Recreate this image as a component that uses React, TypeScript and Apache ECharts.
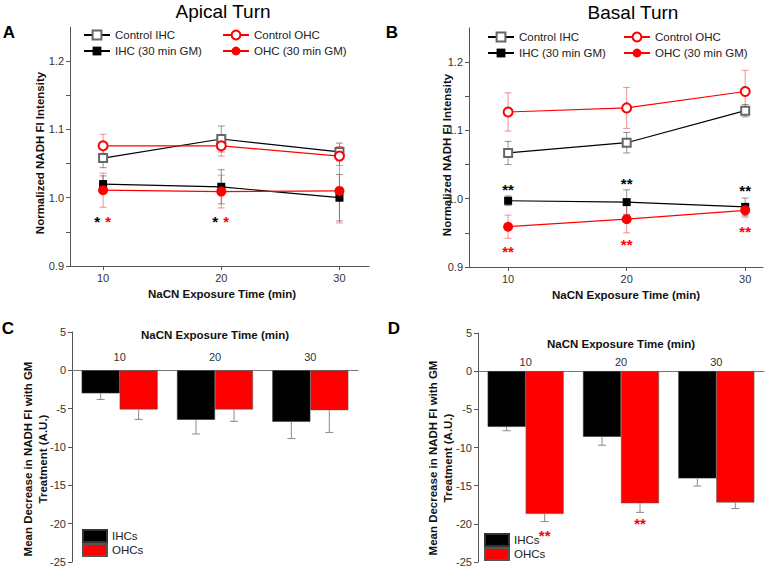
import { useEffect, useRef } from 'react';
import * as echarts from 'echarts';

const FONT = '"Liberation Sans", Arial, Helvetica, sans-serif';

// Exposure times (min)
const times = [10, 20, 30];
const timeCategories = ['10', '20', '30'];

// Panel A — Apical turn, normalized NADH FI intensity (mean, ± error)
const apicalControlIHC = [1.058, 1.086, 1.067];
const apicalControlIHCErr = [0.014, 0.019, 0.013];
const apicalControlOHC = [1.076, 1.076, 1.061];
const apicalControlOHCErr = [0.017, 0.015, 0.014];
const apicalGMIHC = [1.02, 1.016, 1.0];
const apicalGMIHCErr = [0.012, 0.025, 0.034];
const apicalGMOHC = [1.011, 1.009, 1.01];
const apicalGMOHCErr = [0.025, 0.024, 0.047];
const apicalSigIHC = [[10, 0.97], [20, 0.97]];
const apicalSigOHC = [[10, 0.97], [20, 0.97]];

// Panel B — Basal turn
const basalControlIHC = [1.067, 1.082, 1.129];
const basalControlIHCErr = [0.017, 0.015, 0.009];
const basalControlOHC = [1.127, 1.133, 1.157];
const basalControlOHCErr = [0.028, 0.03, 0.031];
const basalGMIHC = [0.997, 0.995, 0.988];
const basalGMIHCErr = [0.007, 0.018, 0.013];
const basalGMOHC = [0.959, 0.97, 0.983];
const basalGMOHCErr = [0.017, 0.02, 0.01];
const basalSigIHC = [[10, 1.018], [20, 1.026], [30, 1.016]];
const basalSigOHC = [[10, 0.927], [20, 0.938], [30, 0.957]];

// Panel C — Apical turn, mean decrease with GM treatment
const apicalDecreaseIHC = [-3.0, -6.45, -6.7];
const apicalDecreaseIHCErr = [0.8, 1.85, 2.2];
const apicalDecreaseOHC = [-5.1, -5.1, -5.2];
const apicalDecreaseOHCErr = [1.3, 1.55, 2.9];

// Panel D — Basal turn, mean decrease with GM treatment
const basalDecreaseIHC = [-7.3, -8.6, -14.05];
const basalDecreaseIHCErr = [0.5, 1.1, 1.0];
const basalDecreaseOHC = [-18.7, -17.3, -17.2];
const basalDecreaseOHCErr = [1.0, 1.2, 0.8];
const basalDecreaseSigOHC = [[0, -21.2], [1, -19.5]];

// Tick values
const normTicks = [0.9, 1.0, 1.1, 1.2];
const normMinorTicks = [0.95, 1.05, 1.15];
const decreaseMin = -25;
const decreaseMax = 5;
const decreaseStep = 5;

const RED = '#ff0000';
const RED_ERR = 'rgba(230,40,40,0.5)';
const GRAY_ERR = 'rgba(60,60,60,0.55)';
const AXIS = '#555';

const pairs = (vals: number[]) => times.map((t, i) => [t, vals[i]]);
const triples = (vals: number[], errs: number[]) => times.map((t, i) => [t, vals[i], errs[i]]);
const catTriples = (vals: number[], errs: number[]) => vals.map((v, i) => [i, v, errs[i]]);

const errRender = (color: string, capHalf: number) => (_p: any, api: any) => {
  const x = api.value(0);
  const y = api.value(1);
  const e = api.value(2);
  const hi = api.coord([x, y + e]);
  const lo = api.coord([x, y - e]);
  const style = { stroke: color, lineWidth: 1 };
  return {
    type: 'group',
    children: [
      { type: 'line', shape: { x1: hi[0], y1: hi[1], x2: lo[0], y2: lo[1] }, style },
      { type: 'line', shape: { x1: hi[0] - capHalf, y1: hi[1], x2: hi[0] + capHalf, y2: hi[1] }, style },
      { type: 'line', shape: { x1: lo[0] - capHalf, y1: lo[1], x2: lo[0] + capHalf, y2: lo[1] }, style },
    ],
  };
};

const barErrRender = (offset: number) => (_p: any, api: any) => {
  const c = api.value(0);
  const v = api.value(1);
  const e = api.value(2);
  const p0 = api.coord([c, v]);
  const p1 = api.coord([c, v - e]);
  const x = p0[0] + offset;
  const style = { stroke: '#8a8a8a', lineWidth: 1 };
  return {
    type: 'group',
    children: [
      { type: 'line', shape: { x1: x, y1: p0[1], x2: x, y2: p1[1] }, style },
      { type: 'line', shape: { x1: x - 4, y1: p1[1], x2: x + 4, y2: p1[1] }, style },
    ],
  };
};

const sigRender = (text: string, color: string, dx: number, size: number) => (_p: any, api: any) => {
  const p = api.coord([api.value(0), api.value(1)]);
  return {
    type: 'text',
    x: p[0] + dx,
    y: p[1] + 3,
    style: {
      text,
      fill: color,
      fontSize: size,
      fontFamily: FONT,
      fontWeight: 'bold',
      align: 'center',
      verticalAlign: 'middle',
    },
  };
};

const tickLabel = { color: '#333', fontSize: 11, fontFamily: FONT };
const axisLine = { show: true, onZero: false, lineStyle: { color: AXIS, width: 1 } };

const normYAxis = (gridIndex: number) => ({
  type: 'value',
  gridIndex,
  min: 0.9,
  max: 1.25,
  axisLine,
  splitLine: { show: false },
  axisTick: {
    show: true,
    length: 4,
    lineStyle: { color: AXIS },
    customValues: [...normTicks, ...normMinorTicks].sort((a, b) => a - b),
  },
  axisLabel: {
    ...tickLabel,
    margin: 6,
    customValues: normTicks,
    formatter: (v: number) => v.toFixed(1),
  },
});

const timeXAxis = (gridIndex: number, min: number, max: number, pad: number) => ({
  type: 'value',
  gridIndex,
  min,
  max,
  name: 'NaCN Exposure Time (min)',
  nameLocation: 'middle',
  nameGap: 22,
  nameTextStyle: { fontWeight: 'bold', fontSize: 11.5, fontFamily: FONT, color: '#111', padding: [0, 0, 0, pad] },
  axisLine,
  splitLine: { show: false },
  axisTick: { show: true, length: 4, lineStyle: { color: AXIS }, customValues: times },
  axisLabel: { ...tickLabel, margin: 6, customValues: times },
});

// Category axis drawn on the zero line: grid top is at +5, so the axis is shifted
// down into the grid by the height share of the 0..5 range.
const catXAxis = (gridIndex: number, gridHeight: number, nameGap: number, margin: number) => ({
  type: 'category',
  gridIndex,
  position: 'top',
  offset: -(gridHeight * (decreaseMax - 0)) / (decreaseMax - decreaseMin),
  data: timeCategories,
  name: 'NaCN Exposure Time (min)',
  nameLocation: 'middle',
  nameGap,
  nameTextStyle: { fontWeight: 'bold', fontSize: 11.5, fontFamily: FONT, color: '#111' },
  axisLine: { show: true, onZero: false, lineStyle: { color: '#777', width: 1 } },
  axisTick: { show: false },
  axisLabel: { ...tickLabel, margin },
  splitLine: { show: false },
});

const decreaseYAxis = (gridIndex: number) => ({
  type: 'value',
  gridIndex,
  min: decreaseMin,
  max: decreaseMax,
  interval: decreaseStep,
  axisLine,
  splitLine: { show: false },
  axisTick: { show: true, length: 4, lineStyle: { color: AXIS } },
  axisLabel: { ...tickLabel, margin: 6 },
});

const lineLegend = (name: string, left: number, top: number) => ({
  data: [name],
  left,
  top,
  padding: 0,
  itemWidth: 26,
  itemHeight: 11,
  selectedMode: false,
  textStyle: { fontSize: 11.5, fontFamily: FONT, color: '#222' },
});

const barLegend = (left: number, top: number) => ({
  data: ['IHCs', 'OHCs'],
  orient: 'vertical',
  left,
  top,
  padding: 0,
  itemGap: 0,
  itemWidth: 24,
  itemHeight: 12,
  icon: 'rect',
  selectedMode: false,
  textStyle: { fontSize: 11.5, fontFamily: FONT, color: '#222' },
});

const lineSeriesSet = (
  axis: number,
  cIHC: number[], cIHCe: number[], cOHC: number[], cOHCe: number[],
  gIHC: number[], gIHCe: number[], gOHC: number[], gOHCe: number[],
) => [
  { type: 'custom', name: 'err-cIHC', xAxisIndex: axis, yAxisIndex: axis, z: 1, renderItem: errRender(GRAY_ERR, 3.5), encode: { x: 0, y: 1 }, data: triples(cIHC, cIHCe) },
  { type: 'custom', name: 'err-cOHC', xAxisIndex: axis, yAxisIndex: axis, z: 1, renderItem: errRender(RED_ERR, 3.5), encode: { x: 0, y: 1 }, data: triples(cOHC, cOHCe) },
  { type: 'custom', name: 'err-gIHC', xAxisIndex: axis, yAxisIndex: axis, z: 1, renderItem: errRender(GRAY_ERR, 3.5), encode: { x: 0, y: 1 }, data: triples(gIHC, gIHCe) },
  { type: 'custom', name: 'err-gOHC', xAxisIndex: axis, yAxisIndex: axis, z: 1, renderItem: errRender(RED_ERR, 3.5), encode: { x: 0, y: 1 }, data: triples(gOHC, gOHCe) },
  {
    type: 'line', name: 'Control IHC', xAxisIndex: axis, yAxisIndex: axis, z: 3,
    symbol: 'emptyRect', symbolSize: 8,
    itemStyle: { color: '#666', borderWidth: 0.9 },
    lineStyle: { color: '#000', width: 1.2 },
    data: pairs(cIHC),
  },
  {
    type: 'line', name: 'Control OHC', xAxisIndex: axis, yAxisIndex: axis, z: 3,
    symbol: 'emptyCircle', symbolSize: 9,
    itemStyle: { color: RED, borderWidth: 0.9 },
    lineStyle: { color: RED, width: 1.2 },
    data: pairs(cOHC),
  },
  {
    type: 'line', name: 'IHC (30 min GM)', xAxisIndex: axis, yAxisIndex: axis, z: 3,
    symbol: 'rect', symbolSize: 8,
    itemStyle: { color: '#000' },
    lineStyle: { color: '#000', width: 1.2 },
    data: pairs(gIHC),
  },
  {
    type: 'line', name: 'OHC (30 min GM)', xAxisIndex: axis, yAxisIndex: axis, z: 3,
    symbol: 'circle', symbolSize: 10,
    itemStyle: { color: RED },
    lineStyle: { color: RED, width: 1.2 },
    data: pairs(gOHC),
  },
];

const GRID_C_H = 230;
const GRID_D_H = 229;

export default function App() {
  const ref = useRef<HTMLDivElement>(null);

  useEffect(() => {
    if (!ref.current) return;
    const chart = echarts.init(ref.current, undefined, { renderer: 'svg' });

    const option: any = {
      animation: false,
      backgroundColor: '#fff',
      textStyle: { fontFamily: FONT },
      grid: [
        { left: 70, top: 27, width: 299, height: 239 },
        { left: 469, top: 28, width: 294, height: 239 },
        { left: 72, top: 332, width: 286, height: GRID_C_H },
        { left: 478, top: 333, width: 286, height: GRID_D_H },
      ],
      xAxis: [
        timeXAxis(0, 7.2, 32.5, 5),
        timeXAxis(1, 6.7, 31.5, 20),
        catXAxis(2, GRID_C_H, 29, 8),
        catXAxis(3, GRID_D_H, 21, 4),
      ],
      yAxis: [normYAxis(0), normYAxis(1), decreaseYAxis(2), decreaseYAxis(3)],
      legend: [
        lineLegend('Control IHC', 83, 29),
        lineLegend('IHC (30 min GM)', 83, 45),
        lineLegend('Control OHC', 222, 29),
        lineLegend('OHC (30 min GM)', 222, 45),
        lineLegend('Control IHC', 487, 31),
        lineLegend('IHC (30 min GM)', 487, 47),
        lineLegend('Control OHC', 623, 31),
        lineLegend('OHC (30 min GM)', 623, 47),
        barLegend(82, 529),
        barLegend(484, 533),
      ],
      graphic: [
        { type: 'text', x: 223, y: 11, style: { text: 'Apical Turn', fontSize: 19, fontFamily: FONT, fill: '#000', align: 'center', verticalAlign: 'middle' } },
        { type: 'text', x: 633, y: 12, style: { text: 'Basal Turn', fontSize: 19, fontFamily: FONT, fill: '#000', align: 'center', verticalAlign: 'middle' } },
        { type: 'text', x: 9, y: 32, style: { text: 'A', fontSize: 17, fontWeight: 'bold', fontFamily: FONT, fill: '#000', align: 'center', verticalAlign: 'middle' } },
        { type: 'text', x: 392, y: 32, style: { text: 'B', fontSize: 17, fontWeight: 'bold', fontFamily: FONT, fill: '#000', align: 'center', verticalAlign: 'middle' } },
        { type: 'text', x: 8, y: 328, style: { text: 'C', fontSize: 17, fontWeight: 'bold', fontFamily: FONT, fill: '#000', align: 'center', verticalAlign: 'middle' } },
        { type: 'text', x: 394, y: 328, style: { text: 'D', fontSize: 17, fontWeight: 'bold', fontFamily: FONT, fill: '#000', align: 'center', verticalAlign: 'middle' } },
        { type: 'text', x: 40, y: 153, rotation: Math.PI / 2, style: { text: 'Normalized NADH Fl Intensity', fontSize: 11.5, fontWeight: 'bold', fontFamily: FONT, fill: '#111', align: 'center', verticalAlign: 'middle' } },
        { type: 'text', x: 447, y: 155, rotation: Math.PI / 2, style: { text: 'Normalized NADH Fl Intensity', fontSize: 11.5, fontWeight: 'bold', fontFamily: FONT, fill: '#111', align: 'center', verticalAlign: 'middle' } },
        { type: 'text', x: 35, y: 459, rotation: Math.PI / 2, style: { text: 'Mean Decrease in NADH Fl with GM\nTreatment (A.U.)', fontSize: 11.5, lineHeight: 15, fontWeight: 'bold', fontFamily: FONT, fill: '#111', align: 'center', verticalAlign: 'middle' } },
        { type: 'text', x: 440, y: 458, rotation: Math.PI / 2, style: { text: 'Mean Decrease in NADH Fl with GM\nTreatment (A.U.)', fontSize: 11.5, lineHeight: 15, fontWeight: 'bold', fontFamily: FONT, fill: '#111', align: 'center', verticalAlign: 'middle' } },
      ],
      series: [
        ...lineSeriesSet(0, apicalControlIHC, apicalControlIHCErr, apicalControlOHC, apicalControlOHCErr, apicalGMIHC, apicalGMIHCErr, apicalGMOHC, apicalGMOHCErr),
        { type: 'custom', name: 'sig-A-IHC', xAxisIndex: 0, yAxisIndex: 0, z: 4, renderItem: sigRender('*', '#000', -6, 15), encode: { x: 0, y: 1 }, data: apicalSigIHC },
        { type: 'custom', name: 'sig-A-OHC', xAxisIndex: 0, yAxisIndex: 0, z: 4, renderItem: sigRender('*', RED, 5, 15), encode: { x: 0, y: 1 }, data: apicalSigOHC },
        ...lineSeriesSet(1, basalControlIHC, basalControlIHCErr, basalControlOHC, basalControlOHCErr, basalGMIHC, basalGMIHCErr, basalGMOHC, basalGMOHCErr),
        { type: 'custom', name: 'sig-B-IHC', xAxisIndex: 1, yAxisIndex: 1, z: 4, renderItem: sigRender('**', '#000', 0, 15), encode: { x: 0, y: 1 }, data: basalSigIHC },
        { type: 'custom', name: 'sig-B-OHC', xAxisIndex: 1, yAxisIndex: 1, z: 4, renderItem: sigRender('**', RED, 0, 15), encode: { x: 0, y: 1 }, data: basalSigOHC },

        { type: 'bar', name: 'IHCs', xAxisIndex: 2, yAxisIndex: 2, barWidth: 38, barGap: '0%', itemStyle: { color: '#000', borderColor: '#333', borderWidth: 0.6 }, data: apicalDecreaseIHC },
        { type: 'bar', name: 'OHCs', xAxisIndex: 2, yAxisIndex: 2, barWidth: 38, barGap: '0%', itemStyle: { color: RED, borderColor: '#555', borderWidth: 0.6 }, data: apicalDecreaseOHC },
        { type: 'custom', name: 'err-C-IHC', xAxisIndex: 2, yAxisIndex: 2, z: 3, renderItem: barErrRender(-19), encode: { x: 0, y: 1 }, data: catTriples(apicalDecreaseIHC, apicalDecreaseIHCErr) },
        { type: 'custom', name: 'err-C-OHC', xAxisIndex: 2, yAxisIndex: 2, z: 3, renderItem: barErrRender(19), encode: { x: 0, y: 1 }, data: catTriples(apicalDecreaseOHC, apicalDecreaseOHCErr) },

        { type: 'bar', name: 'IHCs', xAxisIndex: 3, yAxisIndex: 3, barWidth: 38, barGap: '0%', itemStyle: { color: '#000', borderColor: '#333', borderWidth: 0.6 }, data: basalDecreaseIHC },
        { type: 'bar', name: 'OHCs', xAxisIndex: 3, yAxisIndex: 3, barWidth: 38, barGap: '0%', itemStyle: { color: RED, borderColor: '#555', borderWidth: 0.6 }, data: basalDecreaseOHC },
        { type: 'custom', name: 'err-D-IHC', xAxisIndex: 3, yAxisIndex: 3, z: 3, renderItem: barErrRender(-19), encode: { x: 0, y: 1 }, data: catTriples(basalDecreaseIHC, basalDecreaseIHCErr) },
        { type: 'custom', name: 'err-D-OHC', xAxisIndex: 3, yAxisIndex: 3, z: 3, renderItem: barErrRender(19), encode: { x: 0, y: 1 }, data: catTriples(basalDecreaseOHC, basalDecreaseOHCErr) },
        { type: 'custom', name: 'sig-D-OHC', xAxisIndex: 3, yAxisIndex: 3, z: 4, renderItem: sigRender('**', RED, 19, 15), encode: { x: 0, y: 1 }, data: basalDecreaseSigOHC },
      ],
    };

    chart.setOption(option);
    return () => chart.dispose();
  }, []);

  return (
    <div
      ref={ref}
      style={{ position: 'absolute', left: 0, top: 0, width: 779, height: 568, background: '#fff' }}
    />
  );
}
